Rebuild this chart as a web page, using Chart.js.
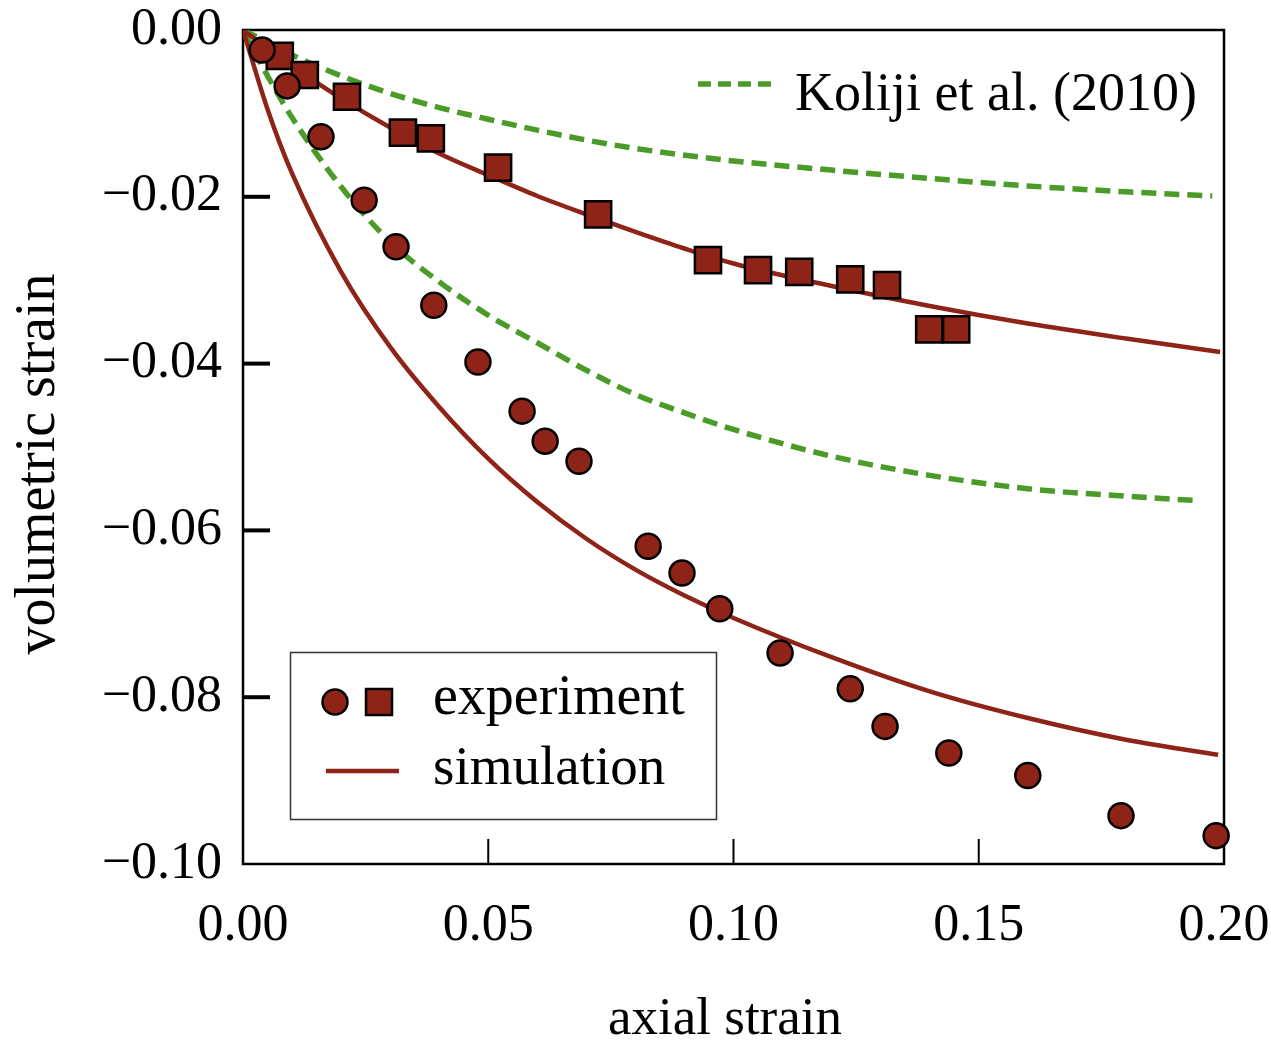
<!DOCTYPE html>
<html>
<head>
<meta charset="utf-8">
<script src="https://cdn.jsdelivr.net/npm/chart.js@4.4.0/dist/chart.umd.min.js"></script>
<style>
  html, body { margin: 0; padding: 0; background: #fff; }
  #wrap { width: 1271px; height: 1043px; }
</style>
</head>
<body>
<div id="wrap"><canvas id="chart" width="1271" height="1043"></canvas></div>
<script>
// measured points (circles = test 1, squares = test 2)
const expCircleX = [0.0039, 0.0090, 0.0159, 0.0247, 0.0312, 0.0389, 0.0479, 0.0569, 0.0616, 0.0685,
                    0.0826, 0.0895, 0.0972, 0.1095, 0.1238, 0.1309, 0.1439, 0.1600, 0.1790, 0.1984];
const expCircleY = [-0.0024, -0.0067, -0.0128, -0.0204, -0.0260, -0.0330, -0.0398, -0.0457, -0.0493, -0.0517,
                    -0.0619, -0.0651, -0.0694, -0.0747, -0.0790, -0.0835, -0.0867, -0.0894, -0.0942, -0.0966];
const expSquareX = [0.0075, 0.0126, 0.0212, 0.0326, 0.0383, 0.0520, 0.0724, 0.0948, 0.1050, 0.1134,
                    0.1238, 0.1313, 0.1399, 0.1454];
const expSquareY = [-0.0031, -0.0054, -0.0080, -0.0123, -0.0130, -0.0165, -0.0221, -0.0276, -0.0288, -0.0290,
                    -0.0299, -0.0306, -0.0359, -0.0359];

// simulated curves
const simUpperX = [0, 0.005, 0.01, 0.02, 0.03, 0.04, 0.05, 0.06, 0.07, 0.08, 0.09, 0.10, 0.12, 0.14, 0.16, 0.18, 0.1992];
const simUpperY = [0, -0.0022, -0.0043, -0.0082, -0.0117, -0.0148, -0.0174, -0.0199, -0.0221, -0.0242, -0.0262,
                   -0.0280, -0.0307, -0.0331, -0.0352, -0.0370, -0.0386];
const simLowerX = [0, 0.005, 0.01, 0.02, 0.03, 0.04, 0.05, 0.06, 0.07, 0.08, 0.09, 0.10, 0.12, 0.14, 0.16, 0.18, 0.1988];
const simLowerY = [0, -0.0095, -0.0172, -0.0290, -0.0380, -0.0452, -0.0514, -0.0566, -0.0610, -0.0647, -0.0678,
                   -0.0705, -0.0752, -0.0793, -0.0825, -0.0851, -0.0869];

// Koliji et al. (2010) model curves
const kolijiUpperX = [0, 0.005, 0.01, 0.02, 0.03, 0.04, 0.05, 0.06, 0.07, 0.08, 0.10, 0.12, 0.14, 0.16, 0.18, 0.1976];
const kolijiUpperY = [0, -0.0015, -0.0030, -0.0055, -0.0076, -0.0093, -0.0107, -0.0120, -0.0132, -0.0142,
                      -0.0157, -0.0168, -0.0178, -0.0187, -0.0194, -0.0199];
const kolijiLowerX = [0, 0.005, 0.01, 0.02, 0.03, 0.04, 0.05, 0.06, 0.07, 0.08, 0.09, 0.10, 0.12, 0.14, 0.16, 0.18, 0.1937];
const kolijiLowerY = [0, -0.0055, -0.0105, -0.0188, -0.0254, -0.0302, -0.0342, -0.0375, -0.0408, -0.0437, -0.0459,
                      -0.0479, -0.0511, -0.0534, -0.0550, -0.0559, -0.0564];

const xTicks = [0, 0.05, 0.10, 0.15, 0.20];
const yTicks = [0, -0.02, -0.04, -0.06, -0.08, -0.10];

const RED = 'rgb(142, 35, 24)';
const GREEN = 'rgb(74, 155, 40)';
const SERIF = '"Liberation Serif", "DejaVu Serif", serif';

function pts(xs, ys) {
  return xs.map(function(x, i) { return { x: x, y: ys[i] }; });
}

function fmt(v) {
  var s = Math.abs(v).toFixed(2);
  return (v < -1e-9 ? '\u2212' : '') + s;
}

function markerSet(data, style, radius) {
  return {
    data: data,
    showLine: false,
    pointStyle: style,
    pointRadius: radius,
    backgroundColor: RED,
    borderColor: '#000',
    borderWidth: 2.5,
    clip: false,
    order: 0
  };
}

function curveSet(data, color, width, dash) {
  return {
    data: data,
    showLine: true,
    pointRadius: 0,
    borderColor: color,
    borderWidth: width,
    borderDash: dash || [],
    cubicInterpolationMode: 'monotone',
    fill: false,
    order: 1
  };
}

// keep tick labels from pushing the plot area inwards
function noLabelPadding(s) {
  s.paddingLeft = 0;
  s.paddingRight = 0;
  s.paddingTop = 0;
  s.paddingBottom = 0;
}

// frame, inward ticks, legends and axis titles
var decor = {
  id: 'decor',
  beforeDatasetsDraw: function(chart) {
    var ctx = chart.ctx, a = chart.chartArea;
    var sx = chart.scales.x, sy = chart.scales.y;
    ctx.save();
    ctx.strokeStyle = '#000';
    ctx.lineWidth = 2.5;
    ctx.strokeRect(a.left, a.top, a.right - a.left, a.bottom - a.top);
    ctx.lineWidth = 4;
    yTicks.slice(1, -1).forEach(function(v) {
      var py = sy.getPixelForValue(v);
      ctx.beginPath();
      ctx.moveTo(a.left, py);
      ctx.lineTo(a.left + 27, py);
      ctx.stroke();
    });
    ctx.lineWidth = 2;
    xTicks.slice(1, -1).forEach(function(v) {
      var px = sx.getPixelForValue(v);
      ctx.beginPath();
      ctx.moveTo(px, a.bottom);
      ctx.lineTo(px, a.bottom - 25);
      ctx.stroke();
    });
    ctx.restore();
  },
  afterDraw: function(chart) {
    var ctx = chart.ctx;
    ctx.save();

    // Koliji legend entry (no box)
    ctx.strokeStyle = GREEN;
    ctx.lineWidth = 5.5;
    ctx.setLineDash([13, 7]);
    ctx.beginPath();
    ctx.moveTo(698, 84);
    ctx.lineTo(771, 84);
    ctx.stroke();
    ctx.setLineDash([]);
    ctx.fillStyle = '#000';
    ctx.font = '54px ' + SERIF;
    ctx.textAlign = 'left';
    ctx.textBaseline = 'alphabetic';
    ctx.fillText('Koliji et al. (2010)', 795, 110);

    // experiment / simulation legend
    ctx.fillStyle = '#fff';
    ctx.fillRect(290, 652, 427, 168);
    ctx.strokeStyle = '#333';
    ctx.lineWidth = 1.5;
    ctx.strokeRect(290.5, 652.5, 426, 167);

    ctx.fillStyle = RED;
    ctx.strokeStyle = '#000';
    ctx.lineWidth = 2.5;
    ctx.beginPath();
    ctx.arc(335, 702, 12.5, 0, Math.PI * 2);
    ctx.fill();
    ctx.stroke();
    ctx.fillRect(366, 689, 26, 26);
    ctx.strokeRect(366, 689, 26, 26);

    ctx.strokeStyle = RED;
    ctx.lineWidth = 4.5;
    ctx.beginPath();
    ctx.moveTo(326, 771);
    ctx.lineTo(399, 771);
    ctx.stroke();

    ctx.fillStyle = '#000';
    ctx.font = '56px ' + SERIF;
    ctx.fillText('experiment', 433, 714);
    ctx.font = '55px ' + SERIF;
    ctx.fillText('simulation', 433, 784);

    // axis titles
    ctx.font = '53px ' + SERIF;
    ctx.textAlign = 'center';
    ctx.fillText('axial strain', 725, 1034);

    ctx.translate(54, 464);
    ctx.rotate(-Math.PI / 2);
    ctx.font = '56px ' + SERIF;
    ctx.fillText('volumetric strain', 0, 0);
    ctx.restore();
  }
};

new Chart(document.getElementById('chart'), {
  type: 'scatter',
  data: {
    datasets: [
      markerSet(pts(expCircleX, expCircleY), 'circle', 12.5),
      markerSet(pts(expSquareX, expSquareY), 'rect', 18.5),
      curveSet(pts(simUpperX, simUpperY), RED, 4.5),
      curveSet(pts(simLowerX, simLowerY), RED, 4.5),
      curveSet(pts(kolijiUpperX, kolijiUpperY), GREEN, 5.5, [15, 8]),
      curveSet(pts(kolijiLowerX, kolijiLowerY), GREEN, 5.5, [15, 8])
    ]
  },
  options: {
    responsive: false,
    animation: false,
    events: [],
    layout: { padding: { left: 0, top: 30, right: 47, bottom: 0 } },
    plugins: {
      legend: { display: false },
      tooltip: { enabled: false }
    },
    scales: {
      x: {
        type: 'linear',
        min: 0,
        max: 0.2,
        afterFit: function(s) { s.height = 179; noLabelPadding(s); },
        afterBuildTicks: function(s) { s.ticks = xTicks.map(function(v) { return { value: v }; }); },
        grid: { display: false, drawTicks: false },
        border: { display: false },
        ticks: {
          padding: 31,
          color: '#000',
          font: { family: SERIF, size: 52, lineHeight: 1.2 },
          maxRotation: 0,
          callback: function(v) { return fmt(v); }
        }
      },
      y: {
        type: 'linear',
        min: -0.1,
        max: 0,
        afterFit: function(s) { s.width = 243; noLabelPadding(s); },
        afterBuildTicks: function(s) { s.ticks = yTicks.map(function(v) { return { value: v }; }); },
        grid: { display: false, drawTicks: false },
        border: { display: false },
        ticks: {
          padding: 21,
          color: '#000',
          font: { family: SERIF, size: 52, lineHeight: 1 },
          callback: function(v) { return fmt(v); }
        }
      }
    }
  },
  plugins: [decor]
});
</script>
</body>
</html>
